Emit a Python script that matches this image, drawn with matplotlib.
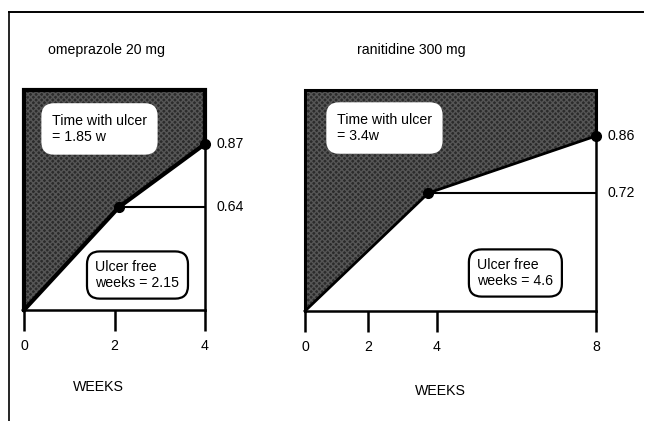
import numpy as np
import matplotlib
matplotlib.use("Agg")
import matplotlib.pyplot as plt
from matplotlib.lines import Line2D

plt.rcParams['font.family'] = ['Liberation Sans', 'DejaVu Sans']
plt.rcParams['font.size'] = 10.2

# data
ome_title = 'omeprazole 20 mg'
ome_weeks = [0, 2.1, 4]
ome_healed = [0, 0.64, 0.87]
ome_ticks = [0, 2, 4]
ome_with_ulcer = 'Time with ulcer\n= 1.85 w'
ome_free = 'Ulcer free\nweeks = 2.15'

ran_title = 'ranitidine 300 mg'
ran_weeks = [0, 3.75, 8]
ran_healed = [0, 0.72, 0.86]
ran_ticks = [0, 2, 4, 8]
ran_with_ulcer = 'Time with ulcer\n= 3.4w'
ran_free = 'Ulcer free\nweeks = 4.6'

DARK = '#2b2b2b'


def warp(src, dst):
    # piecewise linear scale, the original drawing is not to scale
    src = np.asarray(src, float)
    dst = np.asarray(dst, float)
    s0 = (dst[1] - dst[0]) / (src[1] - src[0])
    s1 = (dst[-1] - dst[-2]) / (src[-1] - src[-2])
    s = np.concatenate([[src[0] - 100], src, [src[-1] + 100]])
    d = np.concatenate([[dst[0] - 100 * s0], dst, [dst[-1] + 100 * s1]])
    return (lambda v: np.interp(v, s, d), lambda v: np.interp(v, d, s))


def panel(ax, weeks, healed, ticks, ydraw, xdraw, lw_edge, lw_curve,
          with_ulcer, with_pos, free, free_pos, xlabel_pos):
    xmax = ticks[-1]
    if xdraw is not None:
        ax.set_xscale('function', functions=warp(ticks, xdraw))
    ax.set_yscale('function', functions=warp([0] + healed[1:] + [1], ydraw))
    ax.set_xlim(0, xmax)
    ax.set_ylim(0, 1)

    ax.fill_between(weeks, healed, 1, facecolor=DARK, edgecolor='#565656',
                    hatch='xxxxxx', linewidth=0)
    # outline of the dark area
    ax.plot([0, 0, xmax, xmax], [0, 1, 1, healed[-1]], color='black',
            lw=lw_edge, solid_joinstyle='miter', clip_on=False)
    ax.plot(weeks, healed, color='black', lw=lw_curve, clip_on=False)
    ax.plot([xmax, xmax], [0, healed[-1]], color='black', lw=1.8, clip_on=False)
    ax.plot([weeks[1], xmax], [healed[1], healed[1]], color='black', lw=1.5)
    ax.plot(weeks[1:], healed[1:], 'o', color='black', ms=7, clip_on=False, zorder=5)

    for x, y in zip(weeks[1:], healed[1:]):
        ax.annotate(f'{y:.2f}', (xmax, y), xytext=(8, 0), textcoords='offset points',
                    va='center', ha='left')

    ax.text(with_pos[0], with_pos[1], with_ulcer, transform=ax.transAxes,
            ha='center', va='center', multialignment='left',
            bbox=dict(boxstyle='round,pad=0.75,rounding_size=0.9', fc='white', ec='none'))
    ax.text(free_pos[0], free_pos[1], free, transform=ax.transAxes,
            ha='center', va='center', multialignment='left',
            bbox=dict(boxstyle='round,pad=0.6,rounding_size=0.9', fc='white',
                      ec='black', lw=1.6))
    ax.text(xlabel_pos[0], xlabel_pos[1], 'WEEKS', transform=ax.transAxes,
            ha='center', va='center')

    for s in ['top', 'right', 'left']:
        ax.spines[s].set_visible(False)
    ax.spines['bottom'].set_linewidth(1.8)
    ax.set_xticks(ticks)
    ax.set_xticklabels([str(t) for t in ticks])
    ax.xaxis.set_minor_locator(plt.NullLocator())
    ax.tick_params(axis='x', direction='out', length=15, width=1.8, pad=6)
    ax.set_yticks([])
    ax.yaxis.set_minor_locator(plt.NullLocator())
    ax.patch.set_alpha(0)


fig = plt.figure(figsize=(6.46, 4.21), dpi=100)
W, H = 646, 421

ax1 = fig.add_axes([24 / W, 111 / H, 181 / W, 220 / H])
panel(ax1, ome_weeks, ome_healed, ome_ticks,
      ydraw=[0, 0.468, 0.755, 1], xdraw=None, lw_edge=3.0, lw_curve=3.0,
      with_ulcer=ome_with_ulcer, with_pos=(0.417, 0.823),
      free=ome_free, free_pos=(0.627, 0.159), xlabel_pos=(0.409, -0.35))

ax2 = fig.add_axes([305 / W, 110 / H, 291 / W, 221 / H])
panel(ax2, ran_weeks, ran_healed, ran_ticks,
      ydraw=[0, 0.534, 0.792, 1], xdraw=[0, 0.2165, 0.4536, 1], lw_edge=2.2, lw_curve=2.0,
      with_ulcer=ran_with_ulcer, with_pos=(0.273, 0.828),
      free=ran_free, free_pos=(0.723, 0.172), xlabel_pos=(0.467, -0.362))

fig.text(48 / W, 1 - 50 / H, ome_title, va='center', ha='left')
fig.text(357 / W, 1 - 50 / H, ran_title, va='center', ha='left')

# page frame of the scanned figure
fig.add_artist(Line2D([9 / W, 643 / W], [1 - 12 / H, 1 - 12 / H], color='black', lw=1.4))
fig.add_artist(Line2D([9 / W, 9 / W], [1 - 12 / H, 0], color='black', lw=1.2))

fig.savefig('out.png', dpi=100)
